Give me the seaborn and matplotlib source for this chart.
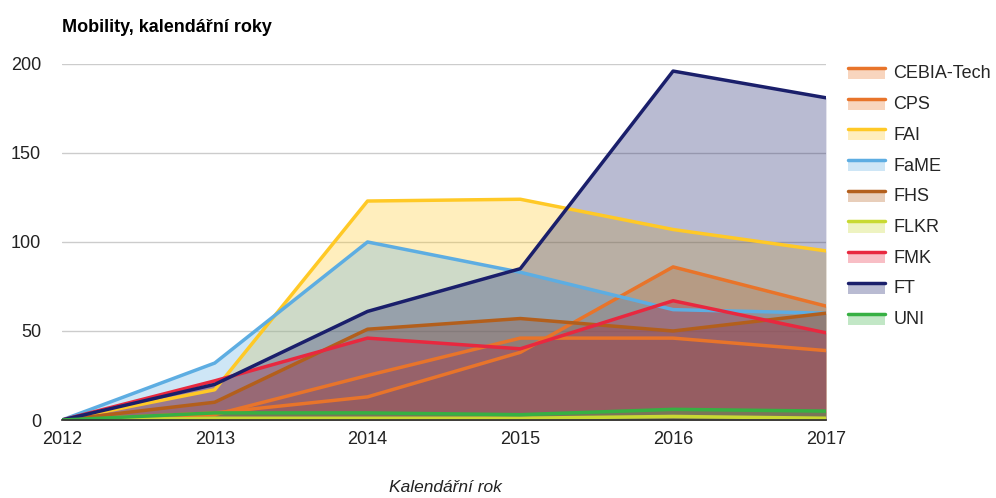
import numpy as np
import pandas as pd
import matplotlib
matplotlib.use("Agg")
import matplotlib.pyplot as plt
import seaborn as sns
from matplotlib.patches import Rectangle
from matplotlib.lines import Line2D
from matplotlib.legend_handler import HandlerBase

years = [2012, 2013, 2014, 2015, 2016, 2017]
series_names = ["CEBIA-Tech", "CPS", "FAI", "FaME", "FHS", "FLKR", "FMK", "FT", "UNI"]
cebia = [0, 3, 25, 46, 46, 39]
cps = [0, 4, 13, 38, 86, 64]
fai = [0, 17, 123, 124, 107, 95]
fame = [0, 32, 100, 83, 62, 60]
fhs = [0, 10, 51, 57, 50, 60]
flkr = [0, 1, 1, 1, 2, 1]
fmk = [0, 22, 46, 40, 67, 49]
ft = [0, 20, 61, 85, 196, 181]
uni = [0, 4, 4, 3, 6, 5]
colors = ["#e8742a", "#e8742a", "#ffc926", "#5dade2", "#b35f1c",
          "#c8d932", "#e8283f", "#1a1f6b", "#37b043"]

values = [cebia, cps, fai, fame, fhs, flkr, fmk, ft, uni]
df = pd.DataFrame([(n, y, v) for n, vals in zip(series_names, values)
                   for y, v in zip(years, vals)], columns=["fakulta", "rok", "pocet"])


class AreaHandler(HandlerBase):
    # line on top, light patch under it (like the area legend in the original)
    def create_artists(self, legend, orig, xd, yd, width, height, fontsize, trans):
        c = orig.get_color()
        top = height / 2 + 3
        rect = Rectangle((-xd, -yd + height / 2 - 5), width, 8, facecolor=c, alpha=0.3,
                         lw=0, transform=trans)
        line = Line2D([-xd, -xd + width], [-yd + top, -yd + top], color=c, lw=2.5,
                      transform=trans)
        return [rect, line]


sns.set_theme(style="white")
plt.rcParams["font.family"] = ["Liberation Sans", "DejaVu Sans"]

fig = plt.figure(figsize=(9.96, 4.98), dpi=100)
ax = fig.add_axes([0.0622, 0.1566, 0.767, 0.715])

# fills first, lines on top
for n, c in zip(series_names, colors):
    d = df[df.fakulta == n]
    ax.fill_between(d.rok, 0, d.pocet, color=c, alpha=0.3, lw=0)
sns.lineplot(data=df, x="rok", y="pocet", hue="fakulta", palette=colors,
             linewidth=2.5, legend=False, ax=ax)

ax.set_xlim(2012, 2017)
ax.set_ylim(0, 200)
ax.set_yticks([0, 50, 100, 150, 200])
ax.set_xticks(years)
ax.set_xticklabels([str(y) for y in years])
ax.yaxis.grid(True, color="#cccccc", lw=1)
ax.set_axisbelow(True)
for s in ["left", "right", "top"]:
    ax.spines[s].set_visible(False)
ax.spines["bottom"].set_color("#333333")
ax.tick_params(axis="both", labelsize=13, colors="#222222", length=0, pad=8)
ax.tick_params(axis="y", pad=15)
ax.set_ylabel("")
ax.set_xlabel("")
fig.text(0.447, 0.012, "Kalendářní rok", fontsize=12.5, style="italic", color="#222222",
         ha="center", va="baseline")
fig.text(0.0622, 0.945, "Mobility, kalendářní roky", fontsize=13, fontweight="bold",
         ha="left", va="center", color="black")

handles = [Line2D([], [], color=c) for c in colors]
leg = ax.legend(handles, series_names, handler_map={Line2D: AreaHandler()},
                loc="upper left", bbox_to_anchor=(1.029, 0.996), frameon=False, fontsize=13,
                borderaxespad=0, borderpad=0, labelspacing=0.76, handlelength=2.05,
                handletextpad=0.45)

fig.savefig("out.png", dpi=100)
